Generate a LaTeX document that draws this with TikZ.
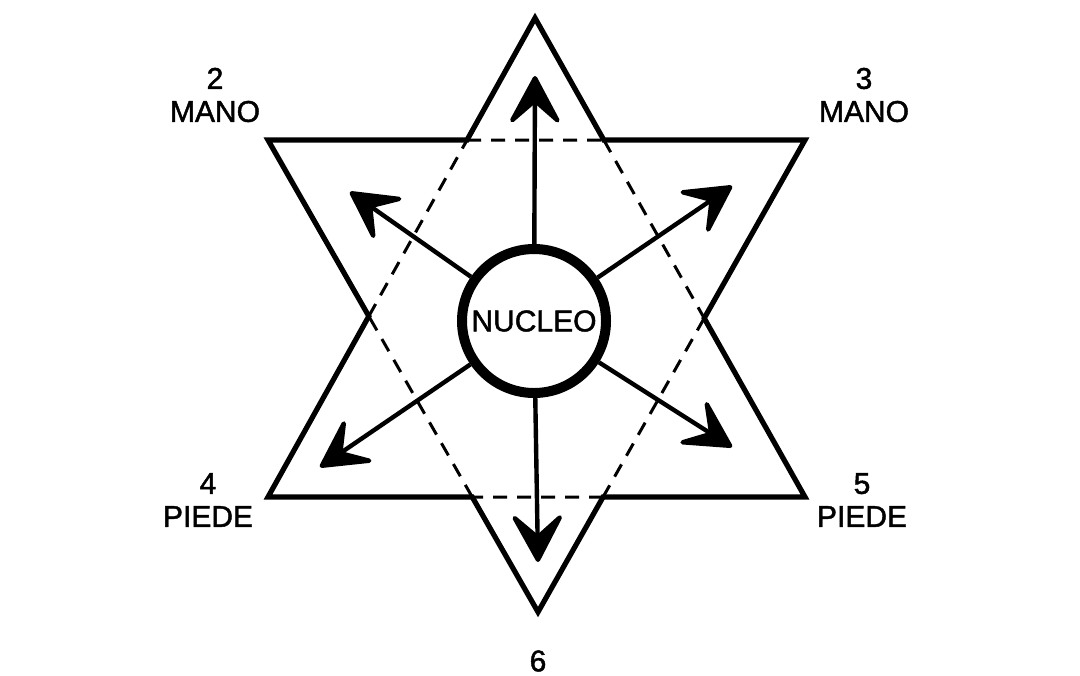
\documentclass[tikz,border=0pt]{standalone}
\usepackage{fontspec}
\setmainfont{Liberation Sans}
\newfontfamily\lblfont[FakeBold=1.5]{Liberation Sans}
\usetikzlibrary{arrows.meta}
\begin{document}
\begin{tikzpicture}[x=0.5pt,y=-0.5pt,
  star/.style={line width=2.6pt,line join=miter},
  hex/.style={line width=1.5pt,dash pattern=on 7pt off 5pt},
  ray/.style={line width=2.2pt,-{Stealth[length=28pt,width=30pt,inset=13pt,round]}},
  lbl/.style={font=\lblfont\fontsize{15}{16.5}\selectfont,align=center,inner sep=0pt}]
\useasboundingbox (0,0) rectangle (1080,675);
% triangles
\coordinate (A) at (535,18);
\coordinate (B) at (268,497);
\coordinate (C) at (805,497);
\coordinate (P) at (268,140);
\coordinate (Q) at (805,140);
\coordinate (R) at (538,612);
\coordinate (h1) at (intersection of A--B and P--Q);
\coordinate (h2) at (intersection of A--C and P--Q);
\coordinate (h3) at (intersection of A--C and Q--R);
\coordinate (h4) at (intersection of B--C and Q--R);
\coordinate (h5) at (intersection of B--C and P--R);
\coordinate (h6) at (intersection of A--B and P--R);
\draw[star] (A) -- (h2) -- (Q) -- (h3) -- (C) -- (h4) -- (R) -- (h5) -- (B) -- (h6) -- (P) -- (h1) -- cycle;
\draw[hex] (h1) -- (h2) (h2) -- (h3) (h3) -- (h4) (h4) -- (h5) (h5) -- (h6) (h6) -- (h1);
% nucleus
\node[circle,draw,line width=5pt,minimum size=72pt,inner sep=0pt,font=\lblfont\fontsize{15}{16}\selectfont] (nuc) at (534,321) {NUCLEO};
% arrow tips
\coordinate (tU) at (535,76);
\coordinate (tD) at (538,562);
\coordinate (tUL) at (350,192);
\coordinate (tUR) at (732,186);
\coordinate (tLL) at (320,467);
\coordinate (tLR) at (732,447);
\draw[ray] (nuc) -- (tU);
\draw[ray] (nuc) -- (tD);
\draw[ray] (nuc) -- (tUL);
\draw[ray] (nuc) -- (tUR);
\draw[ray] (nuc) -- (tLL);
\draw[ray] (nuc) -- (tLR);
% labels
\node[lbl] (l2) at (215,95) {2\\MANO};
\node[lbl] (l3) at (864,95) {3\\MANO};
\node[lbl] (l4) at (208,500) {4\\PIEDE};
\node[lbl] (l5) at (862,500) {5\\PIEDE};
\node[lbl] (l6) at (538,661) {6};
\end{tikzpicture}
\end{document}
